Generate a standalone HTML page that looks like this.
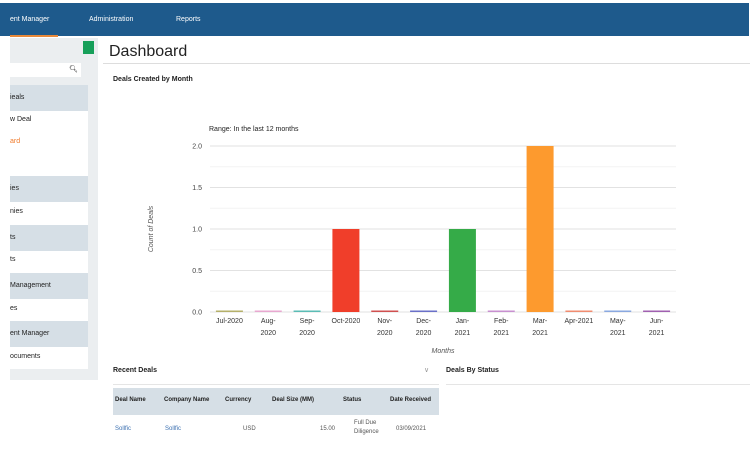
<!DOCTYPE html>
<html><head><meta charset="utf-8"><style>
body{margin:0;width:750px;height:449px;overflow:hidden;background:#fff;font-family:"Liberation Sans",sans-serif;position:relative}
div{position:absolute;box-sizing:border-box}
.t{font-size:7px;color:#222;white-space:nowrap}
</style></head><body>
<div style="left:0;top:3px;width:749px;height:33px;background:#1e5a8c"></div>
<div class="t" style="left:10px;top:16px;color:#fff">ent Manager</div>
<div style="left:10px;top:35px;width:48px;height:2px;background:#e8893a"></div>
<div class="t" style="left:89px;top:16px;color:#fff">Administration</div>
<div class="t" style="left:176px;top:16px;color:#fff">Reports</div>
<div style="left:10px;top:38px;width:88px;height:342px;background:#ebeef0"></div>
<div style="left:83px;top:41px;width:11px;height:13px;background:#17a05a"></div>
<div style="left:10px;top:63px;width:71px;height:14px;background:#fff"><span class="t" style="position:absolute;right:3px;top:2px">&#x1F50D;&#xFE0E;</span></div>
<div style="left:10px;top:85px;width:78px;height:284px;background:#fff"></div>
<div style="left:10px;top:85px;width:78px;height:26px;background:#d6dfe6"><span class="t" style="position:absolute;top:9px">ieals</span></div>
<div class="t" style="left:10px;top:116px">w Deal</div>
<div class="t" style="left:10px;top:138px;color:#f07a2a">ard</div>
<div style="left:10px;top:176px;width:78px;height:26px;background:#d6dfe6"><span class="t" style="position:absolute;top:9px">ies</span></div>
<div class="t" style="left:10px;top:208px">nies</div>
<div style="left:10px;top:225px;width:78px;height:26px;background:#d6dfe6"><span class="t" style="position:absolute;top:9px">ts</span></div>
<div class="t" style="left:10px;top:256px">ts</div>
<div style="left:10px;top:273px;width:78px;height:26px;background:#d6dfe6"><span class="t" style="position:absolute;top:9px">Management</span></div>
<div class="t" style="left:10px;top:305px">es</div>
<div style="left:10px;top:321px;width:78px;height:26px;background:#d6dfe6"><span class="t" style="position:absolute;top:9px">ent Manager</span></div>
<div class="t" style="left:10px;top:353px">ocuments</div>
<div style="left:109px;top:43px;font-size:16px;color:#222">Dashboard</div>
<div style="left:103px;top:63px;width:647px;height:1px;background:#ddd"></div>
<div class="t" style="left:113px;top:76px;font-weight:bold">Deals Created by Month</div>
<div class="t" style="left:209px;top:126px">Range: In the last 12 months</div>
<svg style="position:absolute;left:0;top:0" width="750" height="449" id="ch"></svg>
<div class="t" style="left:113px;top:367px;font-weight:bold">Recent Deals</div>
<div class="t" style="left:424px;top:366px;color:#999">&#8744;</div>
<div style="left:113px;top:384px;width:326px;height:1px;background:#e5e5e5"></div>
<div class="t" style="left:446px;top:367px;font-weight:bold">Deals By Status</div>
<div style="left:446px;top:384px;width:304px;height:1px;background:#e5e5e5"></div>
<div style="left:113px;top:388px;width:326px;height:27px;background:#d6dfe6"></div>
<div class="t" style="left:115px;top:397px;font-size:6px;font-weight:bold">Deal Name</div>
<div class="t" style="left:164px;top:397px;font-size:6px;font-weight:bold">Company Name</div>
<div class="t" style="left:225px;top:397px;font-size:6px;font-weight:bold">Currency</div>
<div class="t" style="left:272px;top:397px;font-size:6px;font-weight:bold">Deal Size (MM)</div>
<div class="t" style="left:343px;top:397px;font-size:6px;font-weight:bold">Status</div>
<div class="t" style="left:390px;top:397px;font-size:6px;font-weight:bold">Date Received</div>
<div class="t" style="left:115px;top:426px;font-size:6px;color:#3a6fb0">Sollfic</div>
<div class="t" style="left:165px;top:426px;font-size:6px;color:#3a6fb0">Sollfic</div>
<div class="t" style="left:243px;top:426px;font-size:6px;color:#555">USD</div>
<div class="t" style="left:320px;top:426px;font-size:6px;color:#555">15.00</div>
<div class="t" style="left:354px;top:419px;font-size:6px;color:#555;line-height:9px">Full Due<br>Diligence</div>
<div class="t" style="left:396px;top:426px;font-size:6px;color:#555">03/09/2021</div>
<script>
const categories=["Jul-2020","Aug-\n2020","Sep-\n2020","Oct-2020","Nov-\n2020","Dec-\n2020","Jan-\n2021","Feb-\n2021","Mar-\n2021","Apr-2021","May-\n2021","Jun-\n2021"];
const values=[0,0,0,1,0,0,1,0,2,0,0,0];
const colors=["#b5b06a","#e8a8d0","#5bbcb5","#f03e2a","#d05050","#6a70c8","#35ab48","#c890d0","#fd9a2e","#f08c70","#8aa8e0","#a060b0"];
const yTicks=[0,0.5,1,1.5,2];
const NS="http://www.w3.org/2000/svg",svg=document.getElementById('ch');
const x0=210,x1=676,yTop=146,yBot=312,yMax=2;
const bw=(x1-x0)/categories.length;
const X=i=>x0+bw*i, Y=v=>yBot-(v/yMax)*(yBot-yTop);
function mk(t,a,txt){const e=document.createElementNS(NS,t);for(const k in a)e.setAttribute(k,a[k]);if(txt!=null)e.textContent=txt;svg.appendChild(e);return e;}
for(let v=0;v<=yMax+1e-9;v+=0.25){
 const l=mk('line',{x1:x0,x2:x1,y1:Y(v),y2:Y(v),stroke:(v*2)%1===0?'#e2e2e2':'#f3f3f3','stroke-width':1});
 
 
}
yTicks.forEach(v=>{
 const t=mk('text',{x:202,y:Y(v)+2.5,'text-anchor':'end','font-size':7,fill:'#444','font-family':'Liberation Sans'},v.toFixed(1));
 
 
});
categories.forEach((c,i)=>{
 const cx=X(i)+bw/2,w=27,h=Math.max(Y(0)-Y(values[i]),1.5);
 const r=mk('rect',{x:cx-w/2,y:Y(0)-h,width:w,height:h,fill:colors[i]});
 
 
 c.split('\n').forEach((ln,j)=>{
  const t=mk('text',{x:cx,y:323+j*12,'text-anchor':'middle','font-size':7,fill:'#333','font-family':'Liberation Sans'},ln);
  
  
 });
});
const xt=mk('text',{x:x0+(x1-x0)/2,y:353,'text-anchor':'middle','font-size':7,fill:'#555','font-style':'italic','font-family':'Liberation Sans'},'Months');


const yt=mk('text',{x:0,y:0,'text-anchor':'middle','font-size':7,fill:'#555','font-style':'italic','font-family':'Liberation Sans',transform:'translate(153,229) rotate(-90)'},'Count of Deals');


</script>
</body></html>
